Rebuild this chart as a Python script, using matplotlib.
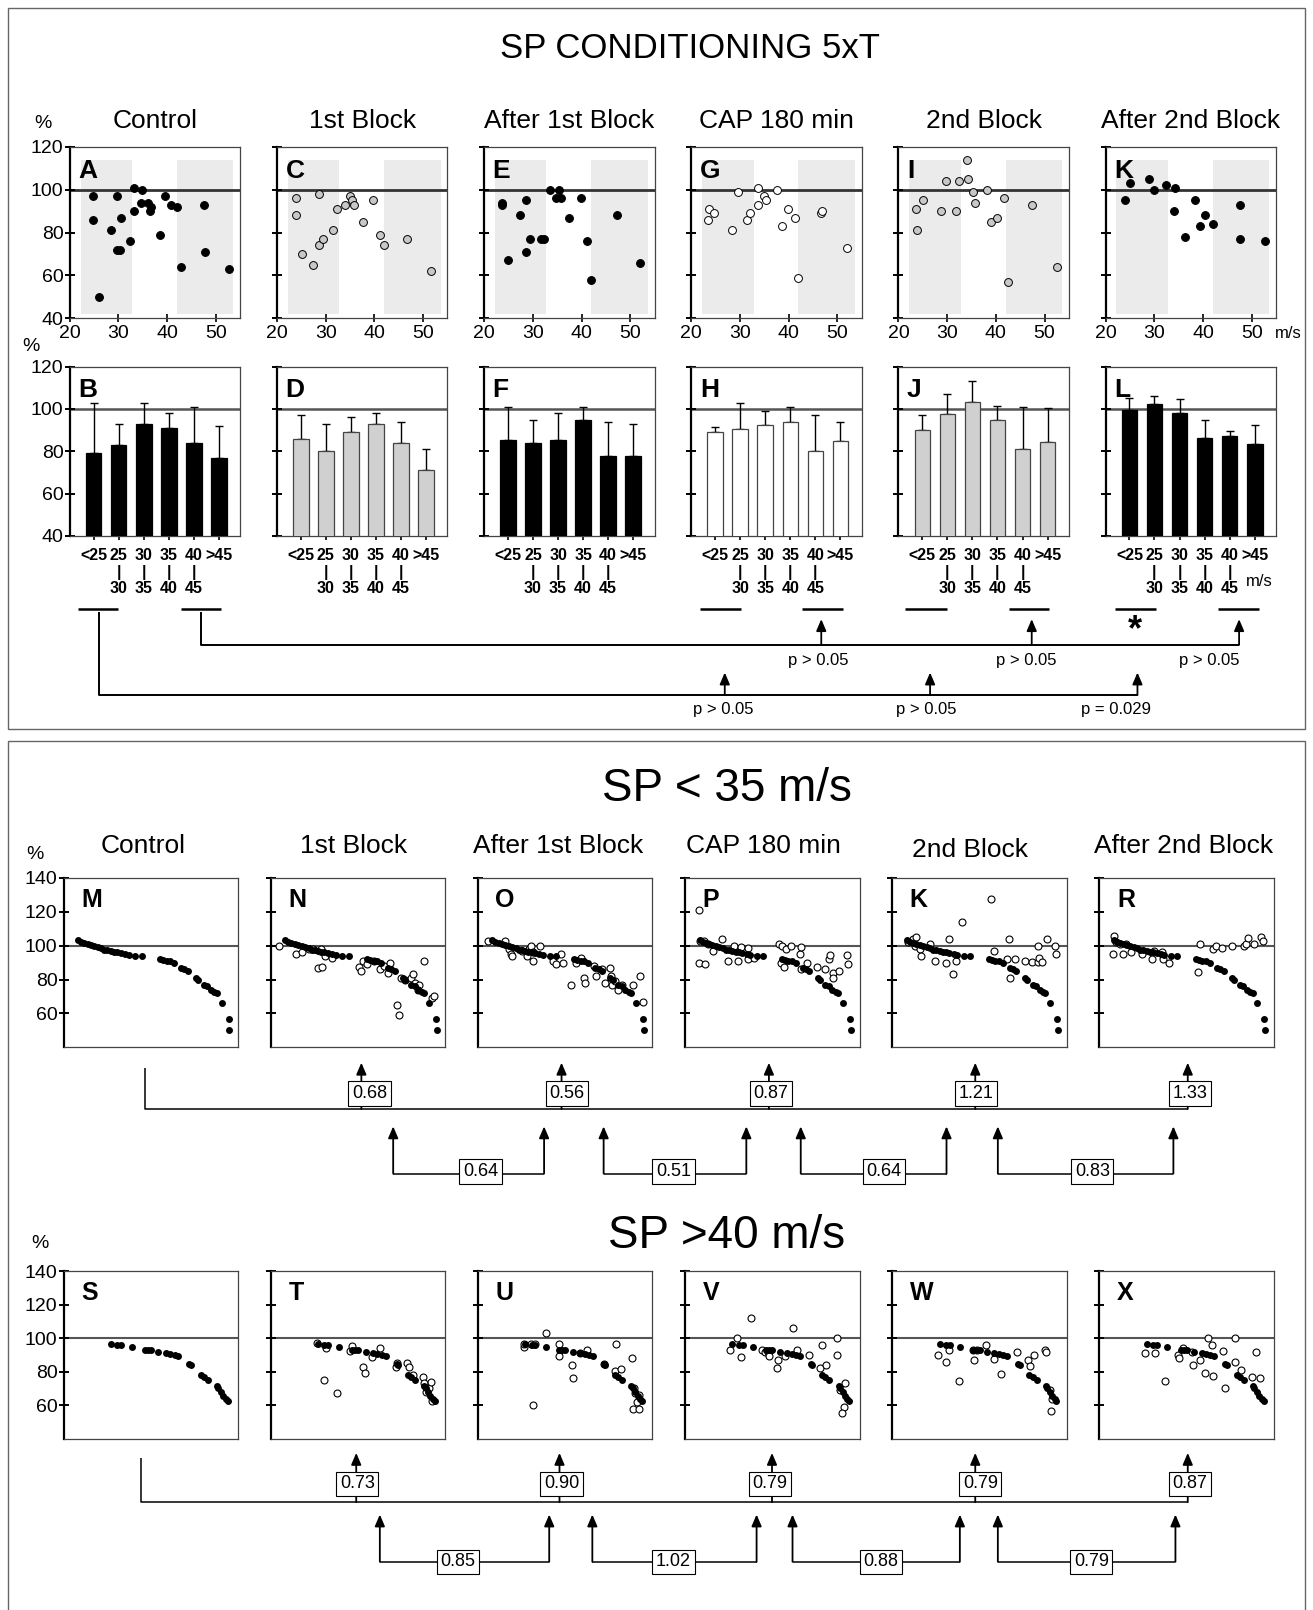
import numpy as np
import matplotlib.pyplot as plt
from matplotlib.patches import Rectangle

plt.rcParams['font.family'] = ['Liberation Sans Narrow', 'Liberation Sans', 'DejaVu Sans']

# ---------------- data ----------------
titles = ['Control', '1st Block', 'After 1st Block', 'CAP 180 min', '2nd Block', 'After 2nd Block']

# conduction speed (m/s) vs response (%) - panels A C E G I K
A_spd = [24.8, 24.7, 25.9, 28.4, 29.7, 29.7, 30.4, 30.6, 32.4, 33.2, 33.1, 34.9, 34.6, 36.0, 36.5, 36.7, 38.5, 39.6, 40.7, 42.0, 42.9, 47.5, 47.7, 52.6]
A_val = [97, 86, 50, 81, 97, 72, 72, 87, 76, 90, 101, 100, 94, 94, 90, 92, 79, 97, 93, 92, 64, 93, 71, 63]
C_spd = [23.9, 23.9, 25.1, 27.5, 28.7, 28.6, 29.4, 31.5, 32.3, 33.9, 35.1, 35.5, 35.8, 37.6, 39.8, 41.2, 42.0, 46.8, 51.7]
C_val = [96, 88, 70, 65, 98, 74, 77, 81, 91, 93, 97, 95, 93, 85, 95, 79, 74, 77, 62]
E_spd = [23.7, 23.7, 24.9, 27.4, 28.6, 28.6, 29.4, 31.6, 32.3, 33.5, 35.3, 34.8, 35.8, 37.5, 39.8, 41.1, 41.9, 47.2, 52.1]
E_val = [94, 93, 67, 88, 95, 71, 77, 77, 77, 100, 100, 96, 96, 87, 96, 76, 58, 88, 66]
G_spd = [23.6, 23.5, 24.7, 28.4, 29.6, 31.5, 32.1, 33.6, 33.8, 35.0, 35.4, 37.6, 38.7, 39.8, 41.3, 42.0, 46.7, 46.9, 52.0]
G_val = [91, 86, 89, 81, 99, 86, 89, 93, 101, 97, 95, 100, 83, 91, 87, 59, 89, 90, 73]
I_spd = [23.7, 23.8, 25.0, 28.7, 29.8, 31.8, 32.5, 34.0, 34.2, 35.3, 35.7, 38.1, 39.0, 40.2, 41.7, 42.5, 47.5, 52.6]
I_val = [91, 81, 95, 90, 104, 90, 104, 114, 105, 99, 94, 100, 85, 87, 96, 57, 93, 64]
K_spd = [23.9, 25.1, 28.9, 29.9, 32.5, 34.3, 34.1, 36.2, 38.3, 39.4, 40.4, 42.0, 47.5, 47.6, 52.7]
K_val = [95, 103, 105, 100, 102, 101, 90, 78, 95, 83, 88, 84, 93, 77, 76]
shade_spans = [(22.2, 32.8), (42.0, 53.6)]

# binned means (%) and top of error bar - panels B D F H J L
bin_labels = ['<25', '25\n|\n30', '30\n|\n35', '35\n|\n40', '40\n|\n45', '>45']
B_mean = [79, 83, 93, 91, 84, 77]
B_top = [103, 93, 103, 98, 101, 92]
D_mean = [86, 80, 89, 93, 84, 71]
D_top = [97, 93, 96, 98, 94, 81]
F_mean = [85.5, 84, 85.5, 95, 78, 78]
F_top = [101, 95, 98, 101, 94, 93]
H_mean = [89, 90.5, 92.5, 94, 80, 85]
H_top = [91.5, 103, 99, 101, 97, 94]
J_mean = [90, 97.5, 103.5, 95, 81, 84.5]
J_top = [97, 107, 113, 101.5, 101, 100.5]
L_mean = [99.5, 102.5, 98, 86.5, 87, 83.5]
L_top = [105, 106, 104.5, 95, 89.5, 92.5]

# SP < 35 m/s : control (filled) and each condition (open), position along ranked axis
c35_x = [8.3, 10, 11.8, 13.8, 15.6, 17.6, 19.6, 21.6, 23.4, 25.1, 27.1, 28.9, 30.7, 32.7, 35.2, 37.2, 41, 44.7,
         55.3, 57, 59, 61, 63.3, 67.3, 69.1, 71.1, 75.9, 77.1, 80.4, 82.4, 84.4, 86.4, 87.7, 90.5, 94.5, 95]
c35_y = [103.2, 102.2, 101.5, 100.8, 100.2, 99.6, 99.2, 98.8, 97.5, 97.2, 97, 96.5, 96, 95.5, 95, 94.5, 94, 94,
         92, 91.5, 91, 91, 90, 87, 86, 85, 81, 80, 77, 76, 74, 72.5, 72, 66, 57, 50]
N35_x = [4.5, 14.6, 18.1, 21.6, 24.4, 27.1, 29.1, 28.6, 30.9, 34.9, 50.3, 51.5, 53.0, 55.3, 59.3, 62.8, 64.8, 67.1,
         68.1, 74.4, 72.4, 73.6, 77.1, 80.4, 81.7, 82.9, 84.7, 84.2, 87.9, 92.5, 93.7]
N35_y = [100, 95, 96, 98, 98, 86.7, 87.5, 98, 94, 93, 87.5, 85, 91, 89, 91, 86, 88, 84, 90, 81, 65, 59, 80, 81,
         83, 78, 77, 74, 91, 69, 70]
O35_x = [5.5, 15.3, 18, 19, 19.5, 25, 28, 29.5, 30.5, 31.3, 31.3, 35.8, 43, 44.5, 47.5, 48.8, 53.5, 56.3, 59,
         60.5, 61.5, 66.3, 67.5, 71.3, 72.5, 75.5, 76.3, 77, 78.8, 80.5, 82.5, 88.8, 93, 94.5]
O35_y = [103, 103, 98, 95, 94, 97, 94, 98, 100, 96, 91, 100, 91, 89, 95, 90, 77, 90, 93, 81, 78, 88, 82, 86, 78,
         86.7, 82, 77, 79, 74, 77, 77, 82, 67]
P35_x = [7.75, 7.75, 11.25, 8.25, 10.75, 13.25, 15.75, 21.25, 24.75, 28, 30.25, 32, 35.75, 36.25, 39.5, 53.5, 55.5,
         54.75, 56.5, 58, 60.5, 65.75, 66.5, 66.5, 70, 75.75, 80, 82.5, 83.25, 85, 84.5, 88, 92.5, 93.25]
P35_y = [120.8, 90, 89, 103, 103, 101, 97, 104, 91, 100, 91, 99.4, 98.4, 92, 93, 101, 100, 90, 87.5, 98, 100, 95,
         99.4, 86, 90, 87.5, 86, 92, 94.7, 84, 81, 85, 94.3, 89]
Q35_x = [8.75, 11.75, 13.75, 13, 16, 16.5, 21.75, 24.75, 30.75, 32.5, 36.5, 35, 40, 56.5, 58.25, 66.75, 65.75,
         67.5, 70.5, 76, 80, 83.5, 84.25, 85.75, 83.5, 88.5, 93, 93.75]
Q35_y = [102, 103.7, 105.3, 99.8, 98, 94, 101, 91, 90, 104, 91, 83, 113.9, 127.8, 97, 104, 92, 81, 92, 91, 90.4,
         90.4, 93, 90.4, 100, 104, 100, 95]
R35_x = [8.3, 8, 9.5, 12, 13.3, 15, 18.3, 24.6, 30.2, 31.4, 35.7, 36.4, 39.7, 57.8, 56.5, 65.3, 66.6, 70.4, 76.1,
         82.9, 84.2, 84.9, 88.4, 92.5, 93.5]
R35_y = [106, 95, 102, 101, 95, 101, 96, 95, 92, 97, 96.3, 92, 90, 101, 84.3, 98, 100, 98.4, 100, 100, 101, 104.7,
         101, 105.3, 103]

# SP > 40 m/s
c40_x = [27.1, 30.7, 32.9, 38.9, 46.5, 48.2, 50, 54.3, 58.5, 61.1, 63.6, 65.8, 72.1, 72.9, 78.6, 80.4, 82.7, 87.9,
         88.7, 90.2, 91.5, 93, 94]
c40_y = [96.6, 95.6, 95.6, 94.9, 93.1, 93.1, 93.1, 91.9, 91.1, 90.5, 90.1, 89.1, 84.8, 83.8, 78, 76.6, 74.9, 71.3,
         70.3, 67.7, 65.7, 63.4, 62.6]
T40_x = [26.4, 31.9, 30.2, 37.9, 45.5, 46.5, 53, 54, 58, 62.6, 71.6, 72.4, 78.1, 79.1, 81.7, 87.4, 87.9, 88.7, 90.5,
         91.7, 92.2]
T40_y = [97, 94, 75, 67, 92, 95, 83, 79, 89, 94.3, 83, 85, 85, 83, 78, 77, 73, 68, 70, 74, 62.6]
U40_x = [26.5, 26.5, 30.5, 32.8, 31.3, 38.8, 46.3, 46.3, 53.8, 54.3, 58.3, 62.5, 72, 78.8, 79.3, 82, 88, 89.3, 90,
         92.5, 88.8, 92, 91.3]
U40_y = [94.5, 96.6, 96.6, 96.6, 59.8, 103, 96.6, 89.1, 83.8, 76, 91.1, 93.1, 84.3, 80.3, 96.6, 81.3, 88, 70.3,
         67.3, 66.3, 57.8, 57.8, 61.8]
V40_x = [25.75, 30, 31.75, 37.5, 44.25, 45.75, 47.5, 48.25, 52.5, 53, 57.5, 61.75, 64.25, 70.75, 77.5, 78.25,
         80.75, 87.25, 86.75, 88.75, 91.75, 90.75, 90]
V40_y = [93.1, 100, 88.7, 111.9, 93.1, 91.5, 91.9, 89.1, 82.2, 87.1, 89.1, 105.9, 93.1, 89.9, 82.2, 96, 83.8, 100,
         90.1, 68.9, 72.9, 59, 55]
W40_x = [26.25, 30.5, 32.25, 38.25, 46.25, 46.75, 48.75, 53.75, 58, 62.25, 71.25, 77.75, 78.75, 81.25, 87.25, 88,
         90.5, 91, 91.75]
W40_y = [90.1, 85.7, 93.1, 74.1, 93.1, 87.1, 93.1, 96, 87.7, 78.4, 91.9, 87.1, 83.2, 89.9, 93.1, 91.9, 68.9, 56.4,
         63.4]
X40_x = [25.9, 31.9, 37.7, 45.2, 45.7, 47.7, 52.8, 53.5, 57.8, 60.3, 62.1, 64.3, 65.3, 70.9, 72.1, 77.9, 77.9, 81.2,
         87.2, 89.7, 92]
X40_y = [91.1, 91.1, 74.1, 90.1, 88.1, 94, 91.9, 83.8, 87.1, 79.4, 100, 96, 77.4, 92.1, 69.9, 100, 85.9, 81.2, 77,
         91.9, 76.2]

# ratios shown in boxes
ratio35_ctrl = ['0.68', '0.56', '0.87', '1.21', '1.33']
ratio35_pair = ['0.64', '0.51', '0.64', '0.83']
ratio40_ctrl = ['0.73', '0.90', '0.79', '0.79', '0.87']
ratio40_pair = ['0.85', '1.02', '0.88', '0.79']

# ---------------- figure ----------------
FW, FH = 1279.0, 1568.0
fig = plt.figure(figsize=(13.13, 16.10), dpi=100)


def add_ax(x0, y0, w, h):
    return fig.add_axes([x0 / FW, 1 - (y0 + h) / FH, w / FW, h / FH])


def style(ax, first):
    for s in ax.spines.values():
        s.set_linewidth(0.9)
        s.set_color('#444444')
    ax.spines['left'].set_linewidth(1.6)
    ax.spines['left'].set_color('black')
    ax.tick_params(axis='y', direction='inout', length=7, width=1.4, labelsize=14, pad=1, labelleft=first)


# row 1: scatter
sc_sets = [(A_spd, A_val, 'black'), (C_spd, C_val, '#c8c8c8'), (E_spd, E_val, 'black'),
           (G_spd, G_val, 'white'), (I_spd, I_val, '#c8c8c8'), (K_spd, K_val, 'black')]
sc_letters = ['A', 'C', 'E', 'G', 'I', 'K']
for i, (xs, ys, fc) in enumerate(sc_sets):
    ax = add_ax(68 + 201.8 * i, 143, 166, 167)
    style(ax, i == 0)
    for a, b in shade_spans:
        ax.add_patch(Rectangle((a, 42), b - a, 72, color='#ebebeb', lw=0, zorder=0))
    ax.axhline(100, color='#333333', lw=2, zorder=1)
    ax.scatter(xs, ys, s=32, facecolor=fc, edgecolor='black', lw=0.7, zorder=3)
    ax.set_xlim(20, 55)
    ax.set_ylim(40, 120)
    ax.set_yticks([40, 60, 80, 100, 120])
    ax.set_xticks([20, 30, 40, 50])
    ax.tick_params(axis='x', direction='inout', length=6, width=1.2, labelsize=14, pad=2)
    ax.text(0.05, 0.93, sc_letters[i], transform=ax.transAxes, fontsize=19, fontweight='bold', va='top')
    fig.text((68 + 201.8 * i + 83) / FW, 1 - 118 / FH, titles[i], ha='center', va='center', fontsize=19)

# row 2: bars
bar_sets = [(B_mean, B_top, 'black', 'black'), (D_mean, D_top, '#d0d0d0', '#444444'),
            (F_mean, F_top, 'black', 'black'), (H_mean, H_top, 'white', '#444444'),
            (J_mean, J_top, '#d0d0d0', '#444444'), (L_mean, L_top, 'black', 'black')]
bar_letters = ['B', 'D', 'F', 'H', 'J', 'L']
pos = np.arange(6)
for i, (mean, top, fc, ec) in enumerate(bar_sets):
    ax = add_ax(68 + 201.8 * i, 357, 166, 165)
    style(ax, i == 0)
    mean = np.array(mean)
    top = np.array(top)
    ax.axhline(100, color='#555555', lw=1.8, zorder=1)
    ax.errorbar(pos, mean, yerr=[np.zeros(6), top - mean], fmt='none', ecolor='black',
                elinewidth=1, capsize=3, capthick=1, zorder=2)
    ax.bar(pos, mean, width=0.62, color=fc, edgecolor=ec, lw=0.9, zorder=3)
    ax.set_xlim(-0.95, 5.85)
    ax.set_ylim(40, 120)
    ax.set_yticks([40, 60, 80, 100, 120])
    ax.set_xticks(pos)
    ax.set_xticklabels(bin_labels, fontsize=11.5, fontweight='bold', linespacing=1.1)
    ax.tick_params(axis='x', direction='inout', length=6, width=1.2, pad=6)
    ax.text(0.05, 0.93, bar_letters[i], transform=ax.transAxes, fontsize=19, fontweight='bold', va='top')

# rows 3 and 4: ranked plots
r35_open = [None, (N35_x, N35_y), (O35_x, O35_y), (P35_x, P35_y), (Q35_x, Q35_y), (R35_x, R35_y)]
r40_open = [None, (T40_x, T40_y), (U40_x, U40_y), (V40_x, V40_y), (W40_x, W40_y), (X40_x, X40_y)]
rows = [(855, 165, c35_x, c35_y, r35_open, ['M', 'N', 'O', 'P', 'K', 'R']),
        (1238, 163, c40_x, c40_y, r40_open, ['S', 'T', 'U', 'V', 'W', 'X'])]
for y0, h, cx, cy, opens, letters in rows:
    for i in range(6):
        ax = add_ax(62 + 201.8 * i, y0, 170, h)
        style(ax, i == 0)
        ax.axhline(100, color='#555555', lw=1.5, zorder=1)
        if opens[i] is not None:
            ax.scatter(opens[i][0], opens[i][1], s=25, facecolor='white', edgecolor='black', lw=0.8, zorder=2)
        ax.scatter(cx, cy, s=25, color='black', lw=0, zorder=3)
        ax.set_xlim(0, 100)
        ax.set_ylim(40, 140)
        ax.set_yticks([60, 80, 100, 120, 140])
        ax.set_xticks([])
        ax.text(0.1, 0.87, letters[i], transform=ax.transAxes, fontsize=18, fontweight='bold', va='center')

# ---------------- overlay: titles, frames, brackets ----------------
ov = fig.add_axes([0, 0, 1, 1], zorder=10)
ov.set_xlim(0, FW)
ov.set_ylim(FH, 0)
ov.axis('off')


def line(xs, ys, lw=1.4):
    ov.plot(xs, ys, color='black', lw=lw, solid_capstyle='butt')


def up_arrow(x, y0, y1):
    ov.annotate('', xy=(x, y1), xytext=(x, y0),
                arrowprops=dict(arrowstyle='-|>,head_length=0.7,head_width=0.3', color='black', lw=1.3,
                                shrinkA=0, shrinkB=0))


def box(x, y, s):
    ov.text(x, y, s, ha='center', va='center', fontsize=13, zorder=20,
            bbox=dict(boxstyle='square,pad=0.2', fc='white', ec='black', lw=0.8))


ov.add_patch(Rectangle((8, 8), 1263, 702, fill=False, ec='#666666', lw=1))
ov.plot([8, 8, 1271, 1271], [1568, 722, 722, 1568], color='#666666', lw=1)

ov.text(672, 47, 'SP CONDITIONING 5xT', ha='center', va='center', fontsize=25)
ov.text(42, 120, '%', ha='center', va='center', fontsize=14)
ov.text(30, 337, '%', ha='center', va='center', fontsize=14)
ov.text(1255, 325, 'm/s', ha='center', va='center', fontsize=12)
ov.text(1227, 566, 'm/s', ha='center', va='center', fontsize=12)

# underlines of the pooled bins
for a, b in [(76, 115), (176, 215), (682, 722), (781, 821), (882, 922), (983, 1022), (1086, 1126), (1186, 1226)]:
    line([a, b], [593, 593], lw=1.8)
ov.text(1106, 614, '*', ha='center', va='center', fontsize=26, fontweight='bold')

line([196, 196, 1207], [596, 628, 628])
for x in [800, 1005, 1207]:
    up_arrow(x, 628, 603)
for x, s in [(797, 'p > 0.05'), (1000, 'p > 0.05'), (1178, 'p > 0.05')]:
    ov.text(x, 643, s, ha='center', va='center', fontsize=12)
line([96, 96, 1108], [596, 677, 677])
for x in [706, 906, 1108]:
    up_arrow(x, 677, 655)
for x, s in [(705, 'p > 0.05'), (902, 'p > 0.05'), (1087, 'p = 0.029')]:
    ov.text(x, 691, s, ha='center', va='center', fontsize=12)

# bottom half
ov.text(708, 768, 'SP < 35 m/s', ha='center', va='center', fontsize=33)
ov.text(708, 1204, 'SP >40 m/s', ha='center', va='center', fontsize=33)
for x, y, s in zip([139, 344, 544, 744, 945, 1153], [824, 824, 824, 824, 828, 824], titles):
    ov.text(x, y, s, ha='center', va='center', fontsize=19)
ov.text(34, 832, '%', ha='center', va='center', fontsize=14)
ov.text(39, 1211, '%', ha='center', va='center', fontsize=14)

line([141, 141, 1157], [1040, 1080, 1080], lw=1.1)
for x, bx, s in zip([352, 547, 749, 950, 1157], [360, 552, 751, 951, 1159], ratio35_ctrl):
    up_arrow(x, 1080, 1035)
    box(bx, 1065, s)
for (a, b), bx, s in zip([(383, 530), (588, 727), (780, 922), (972, 1143)], [468, 656, 861, 1064], ratio35_pair):
    line([a, b], [1143, 1143], lw=1.1)
    up_arrow(a, 1143, 1097)
    up_arrow(b, 1143, 1097)
    box(bx, 1141, s)

line([137, 137, 1157], [1420, 1463, 1463], lw=1.1)
for x, bx, s in zip([347, 545, 752, 950, 1157], [348, 547, 750, 955, 1159], ratio40_ctrl):
    up_arrow(x, 1463, 1415)
    box(bx, 1445, s)
for (a, b), bx, s in zip([(370, 535), (577, 737), (772, 935), (972, 1145)], [446, 656, 858, 1063], ratio40_pair):
    line([a, b], [1521, 1521], lw=1.1)
    up_arrow(a, 1521, 1475)
    up_arrow(b, 1521, 1475)
    box(bx, 1521, s)

fig.savefig('out.png', dpi=100)
